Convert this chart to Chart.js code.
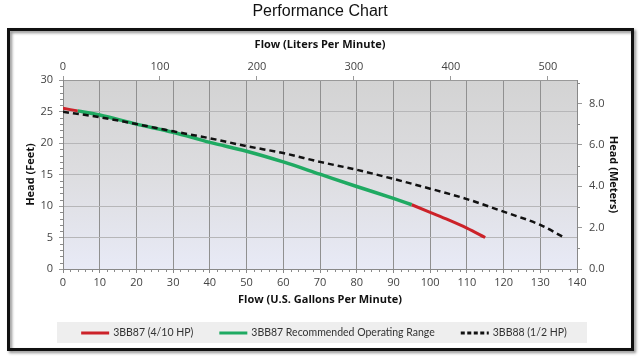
<!DOCTYPE html>
<html><head><meta charset="utf-8">
<script src="https://cdn.jsdelivr.net/npm/chart.js@4.4.0/dist/chart.umd.min.js"></script>
<style>html,body{margin:0;padding:0;background:#fff;}#wrap{width:640px;height:359px;position:relative;}</style>
</head><body><div id="wrap"><canvas id="c" width="640" height="359"></canvas></div>
<script>
const chartTitle = 'Performance Chart';
const seriesLabels = ['3BB87 (4/10 HP)', '3BB87 Recommended Operating Range', '3BB88 (1/2 HP)'];
const axisTitles = { bottom: 'Flow (U.S. Gallons Per Minute)', top: 'Flow (Liters Per Minute)', left: 'Head (Feet)', right: 'Head (Meters)' };
// 3BB87 (4/10 HP) – full curve shown in red (null = gap where the green range covers it)
const redFlow = [0, 4, 50, 95, 100, 105, 110, 115];
const redHead = [25.5, 25.1, null, 10.2, 9.0, 7.8, 6.5, 5.0];
// 3BB87 recommended operating range
const greenFlow = [4, 10, 20, 30, 40, 50, 60, 70, 80, 90, 95];
const greenHead = [25.1, 24.45, 23.0, 21.7, 20.1, 18.7, 17.0, 15.05, 13.1, 11.2, 10.2];
// 3BB88 (1/2 HP)
const dashFlow = [0, 10, 20, 30, 40, 50, 60, 70, 80, 90, 100, 110, 120, 130, 136.5];
const dashHead = [24.95, 24.1, 23.0, 21.85, 20.75, 19.5, 18.4, 17.0, 15.75, 14.3, 12.75, 11.1, 9.1, 7.0, 5.0];
// axis ranges / steps
const gpmRange = [0, 140], gpmStep = 10;
const feetRange = [0, 30], feetStep = 5;
const lpmStep = 100, meterStep = 2;
const LPM_PER_GPM = 3.78541, M_PER_FT = 0.3048;

const F = "'Open Sans', 'Liberation Sans', sans-serif";
const LF = "Lato, 'Open Sans', sans-serif";
const pts = (xs, ys) => xs.map((x, i) => ({ x: x, y: ys[i] }));
const RED = '#cc2229', GREEN = '#1faa62', DASH = '#111111';

const framePlugin = {
  id: 'frame',
  beforeDraw(chart) {
    const ctx = chart.ctx, a = chart.chartArea;
    ctx.save();
    ctx.fillStyle = '#fff'; ctx.fillRect(0, 0, chart.width, chart.height);
    ctx.shadowColor = 'rgba(0,0,0,0.45)'; ctx.shadowOffsetX = 2; ctx.shadowOffsetY = 2; ctx.shadowBlur = 3;
    ctx.strokeStyle = '#111'; ctx.lineWidth = 3;
    ctx.strokeRect(8.5, 29.5, 624, 320);
    ctx.shadowColor = 'transparent';
    const g = ctx.createLinearGradient(0, a.top, 0, a.bottom);
    g.addColorStop(0, '#d3d3d3'); g.addColorStop(0.5, '#dddde0'); g.addColorStop(1, '#e8eaf6');
    ctx.fillStyle = g; ctx.fillRect(a.left, a.top, a.right - a.left, a.bottom - a.top);
    ctx.restore();
  },
  afterDraw(chart) {
    const ctx = chart.ctx, s = chart.scales;
    ctx.save();
    // minor ticks
    ctx.strokeStyle = '#8a8a8a'; ctx.lineWidth = 1;
    ctx.beginPath();
    for (let v = gpmRange[0]; v <= gpmRange[1]; v += 2) {
      if (v % gpmStep === 0) continue;
      const x = Math.round(s.x.getPixelForValue(v)) + 0.5;
      ctx.moveTo(x, s.x.top); ctx.lineTo(x, s.x.top + 3);
    }
    for (let v = feetRange[0]; v <= feetRange[1]; v += 1) {
      if (v % feetStep === 0) continue;
      const y = Math.round(s.y.getPixelForValue(v)) + 0.5;
      ctx.moveTo(s.y.right, y); ctx.lineTo(s.y.right - 3, y);
    }
    for (let v = 1; v <= 9; v += 2) {
      const y = Math.round(s.y2.getPixelForValue(v)) + 0.5;
      ctx.moveTo(s.y2.left, y); ctx.lineTo(s.y2.left + 3, y);
    }
    ctx.stroke();
    // title
    ctx.fillStyle = '#111'; ctx.font = "16px 'Liberation Sans', Arial, sans-serif";
    ctx.textAlign = 'center'; ctx.textBaseline = 'middle';
    ctx.fillText(chartTitle, 320, 12);
    // legend
    const bx = 57, by = 322, bw = 530, bh = 21;
    ctx.fillStyle = '#eeeeee'; ctx.fillRect(bx, by, bw, bh);
    ctx.font = '10.5px ' + LF; ctx.textAlign = 'left';
    const lineW = 28, gapT = 4, gapI = 26;
    const ds = chart.data.datasets;
    const widths = ds.map(d => lineW + gapT + ctx.measureText(d.label).width);
    const total = widths.reduce((p, c) => p + c, 0) + gapI * (ds.length - 1);
    let x = 324 - total / 2; const cy = by + bh / 2 + 0.5;
    ds.forEach((d, i) => {
      ctx.beginPath(); ctx.strokeStyle = d.borderColor; ctx.lineWidth = 3;
      ctx.setLineDash(d.borderDash ? [4, 2.5] : []);
      ctx.moveTo(x, cy); ctx.lineTo(x + lineW, cy); ctx.stroke();
      ctx.setLineDash([]);
      ctx.fillStyle = '#333'; ctx.fillText(d.label, x + lineW + gapT, cy);
      x += widths[i] + gapI;
    });
    ctx.restore();
  }
};

const tickFont = { family: F, size: 11 };
const titleFont = { family: F, size: 11, weight: 'bold' };

new Chart(document.getElementById('c'), {
  type: 'line',
  data: {
    datasets: [
      { label: seriesLabels[0], data: pts(redFlow, redHead), borderColor: RED, borderWidth: 3, pointRadius: 0, spanGaps: false, cubicInterpolationMode: 'monotone', order: 1, xAxisID: 'x', yAxisID: 'y' },
      { label: seriesLabels[1], data: pts(greenFlow, greenHead), borderColor: GREEN, borderWidth: 3.5, pointRadius: 0, cubicInterpolationMode: 'monotone', order: 2, xAxisID: 'x', yAxisID: 'y' },
      { label: seriesLabels[2], data: pts(dashFlow, dashHead), borderColor: DASH, borderWidth: 2.5, borderDash: [6, 4], pointRadius: 0, cubicInterpolationMode: 'monotone', order: 0, xAxisID: 'x', yAxisID: 'y' }
    ]
  },
  options: {
    responsive: false, animation: false, devicePixelRatio: 1,
    layout: { padding: { left: 20, right: 16, top: 34, bottom: 49 } },
    plugins: { legend: { display: false }, tooltip: { enabled: false } },
    scales: {
      x: {
        type: 'linear', position: 'bottom', min: gpmRange[0], max: gpmRange[1],
        ticks: { stepSize: gpmStep, color: '#444', font: tickFont, padding: 3, maxRotation: 0, autoSkip: false },
        grid: { color: '#909090', tickLength: 4, tickColor: '#888' }, border: { color: '#888' },
        title: { display: true, text: axisTitles.bottom, color: '#111', font: titleFont, padding: { top: 2, bottom: 4 } },
        afterFit(sc) { sc.height = 41; }
      },
      x2: {
        type: 'linear', position: 'top', min: gpmRange[0] * LPM_PER_GPM, max: gpmRange[1] * LPM_PER_GPM,
        ticks: { stepSize: lpmStep, includeBounds: false, color: '#444', font: tickFont, padding: 3, maxRotation: 0 },
        grid: { drawOnChartArea: false, tickLength: 4, color: '#999' }, border: { color: '#999' },
        title: { display: true, text: axisTitles.top, color: '#111', font: titleFont, padding: { top: 4, bottom: 2 } },
        afterFit(sc) { sc.height = 46; }
      },
      y: {
        type: 'linear', position: 'left', min: feetRange[0], max: feetRange[1],
        ticks: { stepSize: feetStep, color: '#444', font: tickFont, padding: 6 },
        grid: { color: '#b6b6b8', tickLength: 4, tickColor: '#999' }, border: { color: '#888' },
        title: { display: true, text: axisTitles.left, color: '#111', font: titleFont, padding: { top: 4, bottom: 2 } },
        afterFit(sc) { sc.width = 43; }
      },
      y2: {
        type: 'linear', position: 'right', min: feetRange[0] * M_PER_FT, max: feetRange[1] * M_PER_FT,
        ticks: { stepSize: meterStep, includeBounds: false, color: '#444', font: tickFont, padding: 7, callback: v => v.toFixed(1) },
        grid: { drawOnChartArea: false, tickLength: 5, color: '#999' }, border: { color: '#888' },
        title: { display: true, text: axisTitles.right, color: '#111', font: titleFont, padding: { top: 4, bottom: 2 } },
        afterFit(sc) { sc.width = 47; }
      }
    }
  },
  plugins: [framePlugin]
});
</script></body></html>
